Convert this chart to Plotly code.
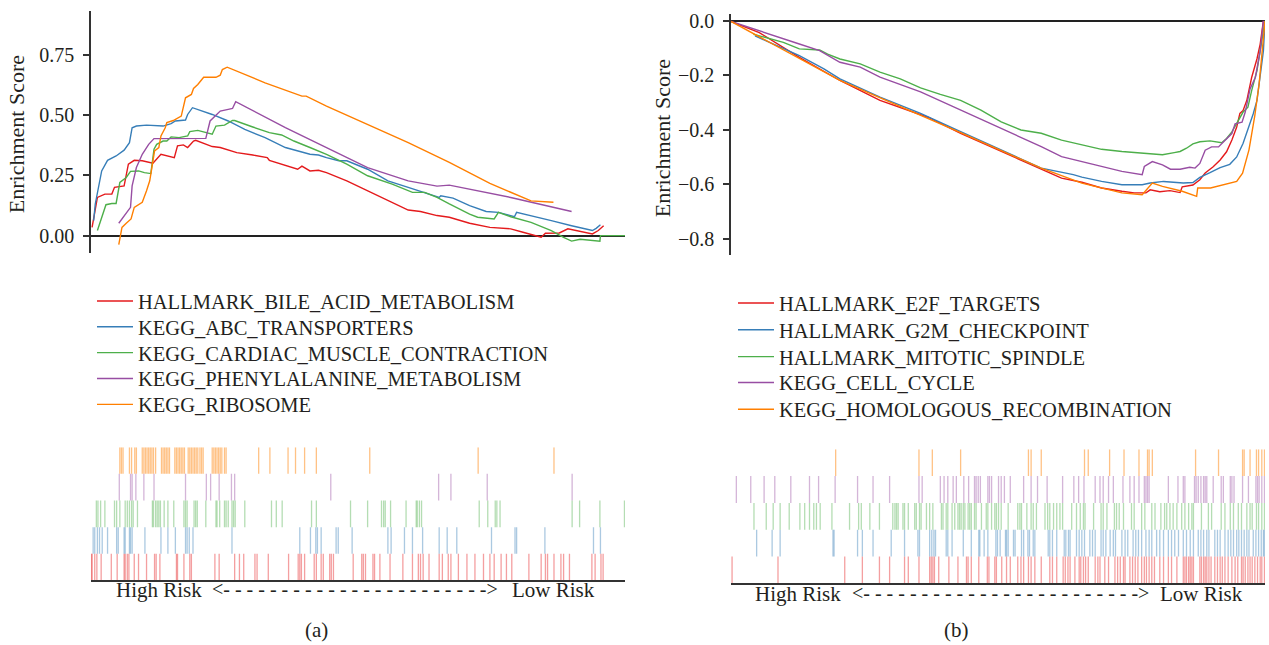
import plotly.graph_objects as go

FONT = "Liberation Serif"
TXT = "#231f20"
AXC = "#333333"
COLORS = ["#e41a1c", "#377eb8", "#4daf4a", "#984ea3", "#ff7f00"]
BAR_RGBA = ["rgba(228,26,28,0.42)", "rgba(55,126,184,0.42)", "rgba(77,175,74,0.42)",
            "rgba(152,78,163,0.42)", "rgba(255,127,0,0.48)"]

# ---------------- panel (a) ----------------
a_names = ["HALLMARK_BILE_ACID_METABOLISM", "KEGG_ABC_TRANSPORTERS",
           "KEGG_CARDIAC_MUSCLE_CONTRACTION", "KEGG_PHENYLALANINE_METABOLISM",
           "KEGG_RIBOSOME"]
a_ticks = [0.0, 0.25, 0.5, 0.75]
a_ticktext = ["0.00", "0.25", "0.50", "0.75"]

a_bile_x = [2, 12, 26, 39, 44, 62, 70, 81, 96, 116, 131, 142, 156, 162, 173, 181, 192, 196, 227, 242,
            273, 303, 330, 334, 364, 387, 395, 410, 426, 441, 479, 518, 556, 594, 617, 648, 671, 709,
            747, 770, 786, 809, 832, 843, 851, 877, 893, 916, 939, 950, 960]
a_bile_y = [0.034, 0.158, 0.172, 0.172, 0.2, 0.206, 0.296, 0.312, 0.31, 0.3, 0.337, 0.33, 0.323, 0.372,
            0.376, 0.365, 0.392, 0.395, 0.369, 0.365, 0.344, 0.334, 0.323, 0.312, 0.292, 0.275, 0.288,
            0.268, 0.271, 0.261, 0.227, 0.186, 0.144, 0.106, 0.1, 0.083, 0.076, 0.051, 0.034, 0.029,
            0.028, 0.014, 0.0, -0.007, 0.01, 0.011, 0.028, 0.018, 0.007, 0.021, 0.041]

a_abc_x = [5, 8, 20, 31, 47, 62, 72, 77, 85, 104, 135, 150, 158, 177, 181, 190, 227, 257, 288, 326,
           364, 395, 410, 426, 441, 464, 479, 518, 556, 594, 632, 652, 655, 678, 709, 740, 763, 793,
           797, 824, 862, 900, 939, 946, 954]
a_abc_y = [0.062, 0.131, 0.268, 0.312, 0.33, 0.354, 0.385, 0.447, 0.454, 0.458, 0.454, 0.464, 0.475,
           0.479, 0.502, 0.53, 0.502, 0.475, 0.44, 0.406, 0.365, 0.344, 0.337, 0.334, 0.323, 0.31,
           0.31, 0.275, 0.227, 0.2, 0.172, 0.158, 0.165, 0.155, 0.124, 0.1, 0.096, 0.078, 0.096,
           0.083, 0.062, 0.041, 0.021, 0.03, 0.045]

a_card_x = [12, 20, 28, 39, 47, 54, 66, 74, 89, 100, 112, 118, 123, 135, 142, 150, 165, 181, 185, 200,
            211, 227, 234, 250, 265, 269, 303, 334, 357, 380, 410, 441, 479, 518, 564, 602, 625, 648,
            671, 709, 724, 755, 763, 786, 824, 862, 885, 900, 916, 931, 953, 954, 1000]
a_card_y = [0.021, 0.076, 0.128, 0.133, 0.133, 0.22, 0.241, 0.266, 0.268, 0.261, 0.257, 0.358, 0.378,
            0.392, 0.392, 0.409, 0.406, 0.413, 0.431, 0.436, 0.429, 0.42, 0.454, 0.458, 0.477, 0.477,
            0.45, 0.427, 0.417, 0.392, 0.365, 0.337, 0.296, 0.248, 0.213, 0.179, 0.179, 0.158, 0.131,
            0.089, 0.076, 0.069, 0.096, 0.078, 0.055, 0.021, -0.007, -0.023, -0.015, -0.017, -0.023,
            0.0, 0.0]

a_phe_x = [52, 74, 77, 85, 96, 108, 118, 165, 215, 223, 242, 257, 265, 271, 364, 441, 518, 594, 648,
           671, 709, 786, 900]
a_phe_y = [0.051, 0.117, 0.206, 0.282, 0.337, 0.378, 0.402, 0.402, 0.403, 0.475, 0.516, 0.523, 0.527,
           0.555, 0.447, 0.365, 0.282, 0.227, 0.205, 0.209, 0.193, 0.158, 0.1]

a_rib_x = [52, 58, 66, 75, 81, 96, 104, 110, 114, 119, 127, 131, 139, 142, 154, 169, 177, 188, 192,
           200, 211, 234, 242, 246, 255, 326, 395, 403, 441, 518, 594, 671, 747, 824, 866]
a_rib_y = [-0.037, 0.034, 0.051, 0.069, 0.117, 0.138, 0.186, 0.227, 0.282, 0.351, 0.365, 0.413, 0.447,
           0.468, 0.477, 0.495, 0.571, 0.585, 0.61, 0.626, 0.656, 0.656, 0.665, 0.688, 0.698, 0.633,
           0.578, 0.578, 0.537, 0.461, 0.385, 0.303, 0.216, 0.144, 0.138]

# gene hit positions (rank 0-1000), panel (a)
a_hits_bile = [1, 2, 7, 11, 19, 38, 49, 62, 64, 68, 71, 81, 89, 104, 119, 122, 129, 160, 162, 174, 185,
               188, 232, 240, 269, 278, 286, 307, 311, 332, 370, 388, 391, 394, 400, 418, 422, 431,
               435, 447, 450, 454, 491, 507, 510, 514, 528, 531, 541, 560, 584, 602, 613, 617, 622,
               633, 652, 658, 669, 674, 688, 704, 719, 735, 747, 755, 768, 778, 788, 820, 843, 851,
               855, 867, 880, 885, 896, 938, 944, 955, 959]
a_hits_abc = [4, 7, 12, 16, 21, 31, 48, 51, 62, 64, 72, 74, 77, 101, 131, 144, 158, 177, 180, 184, 191,
              264, 391, 411, 421, 424, 431, 459, 463, 489, 556, 562, 587, 602, 621, 652, 667, 685,
              750, 794, 797, 850, 941, 954]
a_hits_card = [10, 13, 18, 26, 44, 48, 54, 64, 68, 72, 76, 79, 87, 115, 117, 121, 124, 127, 130, 137,
               144, 155, 174, 177, 180, 193, 196, 199, 215, 234, 236, 241, 250, 253, 257, 264, 267,
               270, 288, 338, 347, 358, 413, 422, 486, 518, 544, 548, 551, 561, 590, 609, 611, 615,
               619, 727, 743, 757, 760, 766, 901, 915, 953, 999]
a_hits_phe = [53, 74, 77, 84, 99, 118, 177, 216, 224, 240, 263, 269, 449, 651, 674, 742, 901]
a_hits_rib = [54, 57, 60, 72, 76, 82, 85, 96, 99, 102, 105, 108, 111, 114, 117, 121, 132, 135, 138, 141,
              144, 147, 157, 160, 163, 166, 169, 172, 175, 182, 185, 188, 191, 194, 197, 200, 204,
              207, 210, 227, 230, 233, 236, 239, 242, 245, 250, 253, 314, 335, 369, 383, 400, 422,
              522, 725, 867]

# ---------------- panel (b) ----------------
b_names = ["HALLMARK_E2F_TARGETS", "HALLMARK_G2M_CHECKPOINT", "HALLMARK_MITOTIC_SPINDLE",
           "KEGG_CELL_CYCLE", "KEGG_HOMOLOGOUS_RECOMBINATION"]
b_ticks = [0.0, -0.2, -0.4, -0.6, -0.8]
b_ticktext = ["0.0", "\u22120.2", "\u22120.4", "\u22120.6", "\u22120.8"]

b_e2f_x = [0, 53, 128, 204, 279, 355, 370, 430, 506, 581, 619, 657, 694, 732, 755, 777, 785, 803, 822,
           841, 845, 865, 878, 888, 903, 916, 928, 938, 947, 953, 959, 966, 975, 985, 991, 997]
b_e2f_y = [-0.002, -0.043, -0.134, -0.219, -0.292, -0.347, -0.355, -0.413, -0.48, -0.547, -0.578,
           -0.593, -0.614, -0.626, -0.632, -0.632, -0.621, -0.628, -0.624, -0.631, -0.61, -0.603,
           -0.584, -0.559, -0.536, -0.511, -0.481, -0.438, -0.39, -0.34, -0.329, -0.292, -0.208,
           -0.139, -0.085, 0.0]

b_g2m_x = [45, 128, 174, 204, 279, 355, 430, 506, 581, 641, 657, 694, 732, 770, 785, 810, 847, 865,
           878, 897, 916, 934, 947, 959, 968, 978, 985, 991, 997, 1000]
b_g2m_y = [-0.055, -0.128, -0.176, -0.213, -0.28, -0.34, -0.407, -0.474, -0.541, -0.565, -0.574,
           -0.59, -0.602, -0.602, -0.596, -0.59, -0.596, -0.594, -0.575, -0.558, -0.539, -0.527,
           -0.5, -0.45, -0.402, -0.341, -0.292, -0.207, -0.11, 0.0]

b_mit_x = [42, 68, 98, 128, 166, 181, 204, 242, 279, 317, 355, 392, 430, 468, 506, 543, 581, 619, 657,
           694, 732, 770, 808, 830, 841, 853, 865, 878, 897, 919, 928, 938, 950, 959, 968, 975, 985,
           994, 1000]
b_mit_y = [-0.049, -0.064, -0.079, -0.103, -0.107, -0.122, -0.14, -0.158, -0.188, -0.213, -0.246,
           -0.27, -0.292, -0.328, -0.371, -0.401, -0.413, -0.438, -0.456, -0.472, -0.48, -0.486,
           -0.492, -0.484, -0.48, -0.468, -0.452, -0.444, -0.441, -0.448, -0.432, -0.408, -0.365,
           -0.335, -0.317, -0.256, -0.183, -0.073, 0.0]

b_cc_x = [0, 75, 128, 166, 204, 242, 279, 355, 430, 506, 581, 619, 657, 694, 732, 770, 774, 789, 808,
          823, 841, 859, 869, 878, 888, 900, 913, 922, 938, 944, 957, 963, 972, 982, 991, 997]
b_cc_y = [-0.002, -0.049, -0.085, -0.109, -0.152, -0.17, -0.207, -0.261, -0.328, -0.395, -0.462,
          -0.499, -0.517, -0.535, -0.553, -0.565, -0.535, -0.517, -0.529, -0.545, -0.545, -0.538,
          -0.541, -0.524, -0.475, -0.463, -0.463, -0.445, -0.414, -0.378, -0.372, -0.335, -0.25,
          -0.207, -0.11, 0.0]

b_hr_x = [0, 204, 430, 581, 657, 732, 770, 789, 808, 845, 872, 874, 898, 928, 947, 958, 970, 981, 989,
          996, 1000]
b_hr_y = [-0.002, -0.219, -0.411, -0.541, -0.596, -0.632, -0.639, -0.596, -0.608, -0.626, -0.645,
          -0.614, -0.614, -0.598, -0.59, -0.56, -0.474, -0.347, -0.231, -0.085, 0.0]

# gene hit positions (rank 0-1000), panel (b)
b_hits_e2f = [2, 88, 213, 246, 278, 297, 325, 332, 352, 372, 375, 378, 381, 389, 408, 425, 441, 444,
              450, 464, 480, 483, 494, 497, 507, 516, 523, 537, 543, 548, 557, 562, 569, 581, 597,
              602, 610, 622, 626, 631, 635, 644, 652, 655, 660, 664, 669, 682, 687, 691, 700, 707,
              719, 724, 729, 735, 738, 747, 752, 757, 762, 769, 774, 778, 783, 788, 793, 803, 810,
              819, 825, 835, 847, 850, 853, 857, 860, 863, 866, 878, 881, 885, 888, 891, 895, 899,
              906, 911, 916, 920, 925, 931, 938, 944, 949, 956, 959, 963, 968, 972, 976, 981, 986,
              991, 994, 999]
b_hits_g2m = [48, 77, 92, 191, 193, 237, 246, 266, 300, 325, 350, 353, 372, 376, 380, 383, 403, 406,
              414, 435, 450, 464, 466, 474, 481, 496, 499, 504, 514, 516, 519, 529, 532, 544, 548,
              556, 559, 566, 569, 594, 597, 602, 610, 624, 627, 632, 635, 647, 652, 657, 662, 672,
              677, 682, 693, 697, 702, 710, 716, 720, 732, 738, 743, 753, 758, 763, 769, 777, 783,
              788, 797, 803, 810, 819, 825, 831, 838, 847, 853, 860, 866, 875, 880, 885, 891, 895,
              906, 911, 916, 925, 931, 936, 941, 947, 951, 956, 961, 966, 970, 978, 983, 988, 993,
              997, 999]
b_hits_mit = [43, 66, 79, 92, 109, 129, 138, 147, 155, 160, 167, 189, 222, 239, 244, 260, 278, 303,
              307, 310, 313, 322, 325, 332, 344, 347, 353, 356, 366, 372, 378, 394, 397, 403, 406,
              414, 419, 425, 428, 431, 435, 438, 444, 447, 450, 456, 459, 469, 478, 481, 488, 494,
              497, 501, 506, 519, 537, 541, 544, 554, 562, 566, 572, 588, 593, 597, 604, 610, 616,
              621, 638, 647, 654, 660, 663, 679, 693, 697, 704, 718, 722, 727, 735, 750, 755, 769,
              775, 788, 794, 805, 812, 816, 822, 828, 835, 844, 850, 857, 863, 866, 881, 894, 900,
              918, 925, 935, 941, 950, 956, 966, 972, 976, 984, 988, 994, 999]
b_hits_cc = [10, 37, 62, 82, 112, 147, 164, 195, 237, 266, 297, 352, 358, 392, 399, 406, 416, 422,
             436, 445, 456, 459, 463, 467, 481, 484, 488, 501, 506, 512, 523, 548, 562, 574, 592,
             621, 642, 651, 661, 682, 691, 697, 707, 716, 734, 747, 755, 764, 774, 777, 780, 783,
             819, 837, 847, 850, 868, 871, 875, 880, 885, 888, 891, 903, 918, 922, 935, 938, 942,
             958, 969, 983, 986, 989, 994, 999]
b_hits_hr = [196, 352, 377, 430, 557, 562, 581, 662, 669, 709, 736, 764, 780, 783, 789, 870, 913, 958,
             961, 972, 984, 988, 994, 999]

# ---------------- layout geometry ----------------
W, H = 1269, 645


def px(x):
    return x / W


def py(y):
    return 1 - y / H


A_X = [px(91), px(625)]
B_X = [px(731), px(1265)]

fig = go.Figure()


def add_curves(xs, ys, names, xa, ya, legend_ids):
    for i in range(5):
        fig.add_trace(go.Scatter(
            x=xs[i], y=ys[i], mode="lines", name=names[i],
            line=dict(color=COLORS[i], width=1.4),
            xaxis=xa, yaxis=ya, legend=legend_ids[i], showlegend=True,
            hoverinfo="skip"))


def add_barcodes(hits, xa, ya):
    for row, positions in enumerate(hits):
        bx, by = [], []
        for p in positions:
            bx += [p, p, None]
            by += [row, row + 1, None]
        fig.add_trace(go.Scatter(
            x=bx, y=by, mode="lines", line=dict(color=BAR_RGBA[row], width=1.3),
            xaxis=xa, yaxis=ya, showlegend=False, hoverinfo="skip"))


a_leg = ["legend"] + [f"legend{i}" for i in range(2, 6)]
b_leg = [f"legend{i}" for i in range(6, 11)]

add_curves([a_bile_x, a_abc_x, a_card_x, a_phe_x, a_rib_x],
           [a_bile_y, a_abc_y, a_card_y, a_phe_y, a_rib_y], a_names, "x", "y", a_leg)
add_curves([b_e2f_x, b_g2m_x, b_mit_x, b_cc_x, b_hr_x],
           [b_e2f_y, b_g2m_y, b_mit_y, b_cc_y, b_hr_y], b_names, "x2", "y2", b_leg)
add_barcodes([a_hits_bile, a_hits_abc, a_hits_card, a_hits_phe, a_hits_rib], "x3", "y3")
add_barcodes([b_hits_e2f, b_hits_g2m, b_hits_mit, b_hits_cc, b_hits_hr], "x4", "y4")

font = dict(family=FONT, size=20, color=TXT)
leg_font = dict(family=FONT, size=20.5, color=TXT)
ann_font = dict(family=FONT, size=21, color=TXT)
title_font = dict(family=FONT, size=22, color=TXT)

hidden_x = dict(showgrid=False, zeroline=False, showline=False, showticklabels=False,
                ticks="", range=[0, 1000], fixedrange=True)

yax_common = dict(showgrid=False, showline=True, linecolor=AXC, linewidth=1.5,
                  ticks="outside", ticklen=6, tickwidth=1.5, tickcolor=AXC,
                  zeroline=True, zerolinecolor="#222222", zerolinewidth=1.5,
                  tickfont=font, ticklabelstandoff=5, fixedrange=True)

layout = dict(
    width=W, height=H, margin=dict(l=0, r=0, t=0, b=0),
    paper_bgcolor="white", plot_bgcolor="white", font=font,
    xaxis=dict(domain=A_X, anchor="y", **hidden_x),
    yaxis=dict(domain=[py(251), py(7)], anchor="x", range=[-0.074, 0.931],
               tickvals=a_ticks, ticktext=a_ticktext, **yax_common),
    xaxis2=dict(domain=B_X, anchor="y2", **hidden_x),
    yaxis2=dict(domain=[py(253), py(10)], anchor="x2", range=[-0.862, 0.0256],
                tickvals=b_ticks, ticktext=b_ticktext, **yax_common),
    xaxis3=dict(domain=A_X, anchor="y3", showgrid=False, zeroline=False, showline=True,
                linecolor=AXC, linewidth=2, showticklabels=False, ticks="", range=[0, 1000]),
    yaxis3=dict(domain=[py(580), py(446)], anchor="x3", range=[0, 5], visible=False),
    xaxis4=dict(domain=B_X, anchor="y4", showgrid=False, zeroline=False, showline=True,
                linecolor=AXC, linewidth=2, showticklabels=False, ticks="", range=[0, 1000]),
    yaxis4=dict(domain=[py(583), py(448)], anchor="x4", range=[0, 5], visible=False),
    showlegend=True,
)

a_rows = [299, 325, 351, 377, 403]
b_rows = [301, 328, 355, 381, 408]
for i in range(5):
    layout[a_leg[i]] = dict(x=px(92), y=py(a_rows[i]), xanchor="left", yanchor="middle",
                            bgcolor="rgba(0,0,0,0)", borderwidth=0, font=leg_font, itemwidth=36,
                            tracegroupgap=0, itemclick=False, itemdoubleclick=False)
    layout[b_leg[i]] = dict(x=px(733), y=py(b_rows[i]), xanchor="left", yanchor="middle",
                            bgcolor="rgba(0,0,0,0)", borderwidth=0, font=leg_font, itemwidth=36,
                            tracegroupgap=0, itemclick=False, itemdoubleclick=False)

fig.update_layout(**layout)

arrow_a = "<-" + " -" * 22 + ">"
arrow_b = "<-" + " -" * 23 + ">"

ann = [
    dict(text="Enrichment Score", x=px(16), y=py(131), textangle=-90, font=title_font),
    dict(text="Enrichment Score", x=px(662), y=py(135), textangle=-90, font=title_font),
    dict(text="High Risk", x=px(204), y=py(590), xanchor="right"),
    dict(text=arrow_a, x=px(355), y=py(589), font=font),
    dict(text="Low Risk", x=px(510), y=py(590), xanchor="left"),
    dict(text="High Risk", x=px(843), y=py(594), xanchor="right"),
    dict(text=arrow_b, x=px(1000), y=py(593), font=font),
    dict(text="Low Risk", x=px(1158), y=py(594), xanchor="left"),
    dict(text="(a)", x=px(316), y=py(630)),
    dict(text="(b)", x=px(956), y=py(630)),
]
for a in ann:
    base = dict(xref="paper", yref="paper", showarrow=False, font=ann_font,
                xanchor="center", yanchor="middle")
    base.update(a)
    fig.add_annotation(**base)

fig.write_html("out.html")
